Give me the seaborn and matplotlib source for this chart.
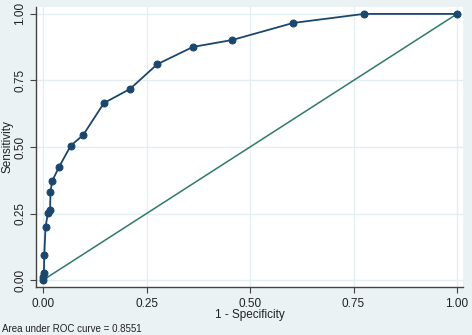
import matplotlib
matplotlib.use("Agg")
import matplotlib.pyplot as plt
import pandas as pd
import seaborn as sns

# ROC points
fpr = [0.0, 0.001, 0.002, 0.003, 0.003, 0.003, 0.006, 0.012, 0.017, 0.018,
       0.022, 0.039, 0.067, 0.097, 0.147, 0.210, 0.276, 0.362, 0.457,
       0.604, 0.775, 1.0]
tpr = [0.0, 0.012, 0.025, 0.040, 0.094, 0.148, 0.200, 0.253, 0.263, 0.332,
       0.372, 0.426, 0.505, 0.545, 0.665, 0.718, 0.811, 0.876, 0.902,
       0.966, 1.0, 1.0]
ref_x = [0.0, 1.0]
ref_y = [0.0, 1.0]
ticks = [0.0, 0.25, 0.5, 0.75, 1.0]
tick_labels = ["0.00", "0.25", "0.50", "0.75", "1.00"]
auc_text = "Area under ROC curve = 0.8551"

BG = "#eaf2f3"
NAVY = "#1a476f"
GREEN = "#2d7a68"
TXT = "#222222"

sns.set_style("white", {"axes.facecolor": "white", "figure.facecolor": BG})
plt.rcParams["font.family"] = ["Liberation Sans", "DejaVu Sans"]

roc = pd.DataFrame({"fpr": fpr, "tpr": tpr})
ref = pd.DataFrame({"x": ref_x, "y": ref_y})

fig = plt.figure(figsize=(4.72, 3.35), dpi=100)
ax = fig.add_axes([36 / 472, 1 - 287 / 335, (463 - 36) / 472, (287 - 7) / 335])

sns.lineplot(data=ref, x="x", y="y", ax=ax, color=GREEN, lw=1.1, sort=False)
sns.lineplot(data=roc, x="fpr", y="tpr", ax=ax, color=NAVY, lw=1.3,
             marker="o", markersize=5, markeredgecolor=NAVY, sort=False)

ax.set_xlim(-0.017, 1.0145)
ax.set_ylim(-0.026, 1.026)
ax.set_xticks(ticks)
ax.set_xticklabels(tick_labels, fontsize=8.5)
ax.set_yticks(ticks)
ax.set_yticklabels(tick_labels, fontsize=8.5, rotation=90, va="center")
ax.grid(True, color="#e3eef0", lw=1)
ax.set_axisbelow(True)

for side in ["top", "right"]:
    ax.spines[side].set_visible(False)
for side in ["left", "bottom"]:
    ax.spines[side].set_color("#444444")
    ax.spines[side].set_linewidth(1)
ax.tick_params(axis="both", direction="out", length=4, width=0.8,
               color="#444444", left=True, bottom=True, labelcolor=TXT)
ax.tick_params(axis="y", pad=3)
ax.tick_params(axis="x", pad=4)

ax.set_xlabel("1 - Specificity", fontsize=8.5, va="center", color=TXT)
ax.set_ylabel("Sensitivity", fontsize=8.5, va="center", color=TXT)
ax.xaxis.set_label_coords(0.5, -0.1)
ax.yaxis.set_label_coords(-0.0656, 0.5)
fig.text(2 / 472, 1 - 329 / 335, auc_text, fontsize=7, ha="left", va="center",
         color=TXT)

fig.savefig("out.png", dpi=100, facecolor=BG)
